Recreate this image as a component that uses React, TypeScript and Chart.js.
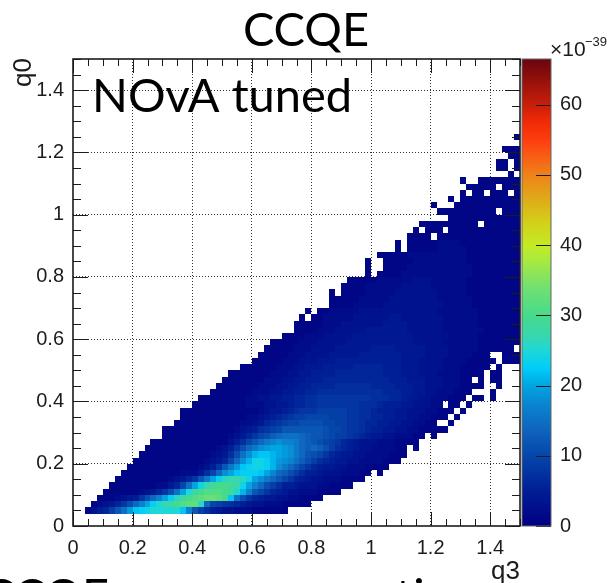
import React, { useEffect, useRef } from "react";
import { Chart, registerables } from "chart.js";

Chart.register(...registerables);

// Bin width of the q3 / q0 histogram
const binWidth = 0.02;
const zMax = 66.5;
const firstRow = 2;

// One string per q0 bin (from q0 = 0.04 upward). Each char is one q3 bin, base-36 value in units of 1e-39; '.' = empty.
const cellRows: string[] = [
  "..135 69cfj mnopp pppmh c9754 33222 11111 1",
  "...12 3468b ehknp rsuvw wqea9 87654 33222 11111",
  "....1 11234 58beh knqsu vwxxw umfb8 65443 32211 11",
  "..... 11111 12346 8bfkp suvvv utplh ca865 43322 21111",
  "..... .1111 11112 246af kortu utrok heb97 55433 32211 11",
  "..... ..111 11111 12346 8cgkn qrrqo kigec a8654 33222 1111",
  "..... ...11 11111 11122 247ae ikmnn nmkhe db975 54333 22211 .1",
  "..... ....1 11111 11111 12358 cgjmn oonli geca8 65443 32221 111",
  "..... ..... 11111 11111 11234 6aeil oonlj ihfdb 97654 43322 22111",
  "..... ..... .1111 11111 11123 47bfi lmmlk jigec ba865 44332 22211 1",
  "..... ..... ..111 11111 11112 358be gijkk jiged edb97 65433 22221 1.1",
  "..... ..... ...11 11111 11111 1357a ceghi hhged cba98 65433 32221 111",
  "..... ..... ..... 11111 11111 12346 8abde fffed ccba9 98765 44332 2211. 1",
  "..... ..... ..... 11111 11111 11234 5789a ccccc ccbaa 98876 55443 32211 111",
  "..... ..... ..... ..111 11111 11122 34678 9aabb bbaa9 98876 65544 33221 1..1",
  "..... ..... ..... ...11 11111 11112 23456 7899a aaa99 98877 66554 43322 111.1",
  "..... ..... ..... ...11 11111 11111 12344 56788 89999 98877 65554 43332 2111. 1",
  "..... ..... ..... ..... 11111 11112 22334 45667 78888 88877 76555 44333 22.11 .1",
  "..... ..... ..... ..... .1111 11112 23344 55667 78888 88888 77766 54433 22211 1.11. 1",
  "..... ..... ..... ..... ...11 11111 22233 44556 67777 77777 77666 55443 32221 11... 1",
  "..... ..... ..... ..... ....1 11111 12223 34455 66667 77777 66665 55443 33222 1111. .1",
  "..... ..... ..... ..... ..... 11111 11222 33445 55666 66666 66655 54443 33222 11.1. 11",
  "..... ..... ..... ..... ..... .1111 11122 23344 55556 66666 66555 44433 32222 1111. 11",
  "..... ..... ..... ..... ..... ...11 11112 22334 44555 55666 66555 44433 33222 11111 .1",
  "..... ..... ..... ..... ..... ..... 11111 22233 34445 55555 55555 44433 33222 21111 1.111",
  "..... ..... ..... ..... ..... ..... .1111 12223 33344 44455 55555 44443 33322 22111 ..111",
  "..... ..... ..... ..... ..... ..... ..111 11222 33334 44444 55554 44443 33322 22211 1111.",
  "..... ..... ..... ..... ..... ..... ...11 11122 23333 34444 44444 44333 33222 22211 11111",
  "..... ..... ..... ..... ..... ..... ..... 11112 22333 33444 44444 44333 33322 22211 11111",
  "..... ..... ..... ..... ..... ..... ..... ..111 12223 33334 44444 43333 33222 22221 11111",
  "..... ..... ..... ..... ..... ..... ..... ..111 11222 33333 33444 43333 33222 22211 11111",
  "..... ..... ..... ..... ..... ..... ..... ...1. 11222 22333 33344 33333 33222 22211 11111",
  "..... ..... ..... ..... ..... ..... ..... ....1 .1122 22233 33333 33333 32222 22211 11111",
  "..... ..... ..... ..... ..... ..... ..... ..... ...11 11222 22333 33333 33222 22111 11111",
  "..... ..... ..... ..... ..... ..... ..... ..... ...11 11122 22233 33333 32222 22111 11111",
  "..... ..... ..... ..... ..... ..... ..... ..... ...1. 11112 22223 33333 32222 21111 11111",
  "..... ..... ..... ..... ..... ..... ..... ..... ..... 11112 22222 33333 22222 21111 11111",
  "..... ..... ..... ..... ..... ..... ..... ..... ..... .1111 12222 22333 22222 21111 11111",
  "..... ..... ..... ..... ..... ..... ..... ..... ..... ....1 .1111 22222 22222 22111 11111",
  "..... ..... ..... ..... ..... ..... ..... ..... ..... ....1 ..111 12222 22222 22111 11111",
  "..... ..... ..... ..... ..... ..... ..... ..... ..... ....1 ..111 11222 22222 21111 11111",
  "..... ..... ..... ..... ..... ..... ..... ..... ..... ..... .1111 12222 22222 21111 11111",
  "..... ..... ..... ..... ..... ..... ..... ..... ..... ..... ....1 .1111 12222 21111 11111",
  "..... ..... ..... ..... ..... ..... ..... ..... ..... ..... ....1 .1111 12222 11111 11111",
  "..... ..... ..... ..... ..... ..... ..... ..... ..... ..... ..... .1111 .1111 11111 11111",
  "..... ..... ..... ..... ..... ..... ..... ..... ..... ..... ..... ..1.1 11.11 11111 11111",
  "..... ..... ..... ..... ..... ..... ..... ..... ..... ..... ..... ...11 11111 111.1 11111",
  "..... ..... ..... ..... ..... ..... ..... ..... ..... ..... ..... ..... ...11 11111 11111",
  "..... ..... ..... ..... ..... ..... ..... ..... ..... ..... ..... ..... .1111 11111 1.111",
  "..... ..... ..... ..... ..... ..... ..... ..... ..... ..... ..... ..... 1...1 11111 11111",
  "..... ..... ..... ..... ..... ..... ..... ..... ..... ..... ..... ..... ...1. 11111 11111",
  "..... ..... ..... ..... ..... ..... ..... ..... ..... ..... ..... ..... ..... 1.11. 111.1",
  "..... ..... ..... ..... ..... ..... ..... ..... ..... ..... ..... ..... ..... .1111 1.111",
  "..... ..... ..... ..... ..... ..... ..... ..... ..... ..... ..... ..... ..... 1..11 11111",
  "..... ..... ..... ..... ..... ..... ..... ..... ..... ..... ..... ..... ..... ..... ...1.",
  "..... ..... ..... ..... ..... ..... ..... ..... ..... ..... ..... ..... ..... ..... .11.1",
  "..... ..... ..... ..... ..... ..... ..... ..... ..... ..... ..... ..... ..... ..... .11.1",
  "..... ..... ..... ..... ..... ..... ..... ..... ..... ..... ..... ..... ..... ..... ...11",
  "..... ..... ..... ..... ..... ..... ..... ..... ..... ..... ..... ..... ..... ..... ..111",
  "",
  "..... ..... ..... ..... ..... ..... ..... ..... ..... ..... ..... ..... ..... ..... ....1",
];

const paletteValues = [0, 5, 10, 13.7, 17, 20, 22.5, 25, 27, 30, 34, 38, 40, 43, 47, 50, 55, 58, 60, 64, 66.5];
const paletteColors: [number, number, number][] = [
  [0, 0, 130], [0, 30, 150], [5, 70, 170], [15, 100, 190], [10, 130, 205], [0, 165, 225], [0, 205, 250], [30, 215, 215],
  [55, 215, 175], [70, 218, 140], [115, 224, 112], [170, 235, 60], [195, 235, 35], [210, 210, 25], [225, 165, 25],
  [240, 130, 25], [255, 60, 15], [235, 40, 5], [200, 30, 10], [140, 15, 10], [105, 5, 15],
];

const xTitle = "q3";
const yTitle = "q0";
const topTitle = "CCQE";
const insetLabel = "NOvA tuned";
const cutTextA = "CCQE";
const cutTextB = "cross section";

function colorFor(v: number): string {
  for (let k = 1; k < paletteValues.length; k++) {
    if (v <= paletteValues[k]) {
      const t = (v - paletteValues[k - 1]) / (paletteValues[k] - paletteValues[k - 1]);
      const a = paletteColors[k - 1];
      const b = paletteColors[k];
      return `rgb(${a.map((c, n) => Math.round(c + (b[n] - c) * t)).join(",")})`;
    }
  }
  return "rgb(105,5,15)";
}

function buildCells() {
  const pts: { x: number; y: number; v: number }[] = [];
  cellRows.forEach((row, r) => {
    const s = row.replace(/ /g, "");
    for (let i = 0; i < s.length; i++) {
      if (s[i] === ".") continue;
      pts.push({ x: (i + 0.5) * binWidth, y: (r + firstRow + 0.5) * binWidth, v: parseInt(s[i], 36) });
    }
  });
  return pts;
}

const INK = "#1c1c1c";
const tickFont = { family: "'Liberation Sans'", size: 20 };

const heatPlugin = {
  id: "heat",
  beforeDatasetsDraw(chart: any) {
    const { ctx, scales } = chart;
    const { x, y, cb } = scales;
    const area = chart.chartArea;
    ctx.save();
    for (const p of chart.data.datasets[0].data) {
      const x0 = Math.round(x.getPixelForValue(p.x - binWidth / 2));
      const x1 = Math.round(x.getPixelForValue(p.x + binWidth / 2));
      const y0 = Math.round(y.getPixelForValue(p.y + binWidth / 2));
      const y1 = Math.round(y.getPixelForValue(p.y - binWidth / 2));
      ctx.fillStyle = colorFor(p.v);
      ctx.fillRect(x0, y0, x1 - x0, y1 - y0);
    }
    // colour bar
    const top = cb.getPixelForValue(zMax);
    const bot = cb.getPixelForValue(0);
    const g = ctx.createLinearGradient(0, bot, 0, top);
    paletteValues.forEach((v, k) => g.addColorStop(v / zMax, `rgb(${paletteColors[k].join(",")})`));
    ctx.fillStyle = g;
    ctx.fillRect(area.right + 2, top, 29, bot - top);
    ctx.restore();
  },
  afterDatasetsDraw(chart: any) {
    const { ctx, scales } = chart;
    const { x, y, cb } = scales;
    const a = chart.chartArea;
    ctx.save();
    ctx.strokeStyle = INK;
    ctx.lineWidth = 1;
    ctx.beginPath();
    x.ticks.forEach((t: any, n: number) => {
      const px = Math.round(x.getPixelForValue(t.value)) + 0.5;
      const len = n % 4 === 0 ? 14 : 7;
      ctx.moveTo(px, a.bottom); ctx.lineTo(px, a.bottom - len);
      ctx.moveTo(px, a.top); ctx.lineTo(px, a.top + len);
    });
    y.ticks.forEach((t: any, n: number) => {
      const py = Math.round(y.getPixelForValue(t.value)) + 0.5;
      const len = n % 4 === 0 ? 15 : 8;
      ctx.moveTo(a.left, py); ctx.lineTo(a.left + len, py);
      ctx.moveTo(a.right, py); ctx.lineTo(a.right - len, py);
    });
    cb.ticks.forEach((t: any) => {
      const py = Math.round(cb.getPixelForValue(t.value)) + 0.5;
      ctx.moveTo(a.right + 31, py); ctx.lineTo(a.right + 16, py);
    });
    ctx.stroke();
    ctx.lineWidth = 1.6;
    ctx.strokeRect(a.left, a.top, a.right - a.left, a.bottom - a.top);
    ctx.strokeStyle = "#666";
    ctx.lineWidth = 1;
    ctx.strokeRect(a.right + 2, a.top, 29, a.bottom - a.top);
    ctx.restore();
  },
  afterDraw(chart: any) {
    const { ctx } = chart;
    ctx.save();
    ctx.fillStyle = "#000";
    ctx.textBaseline = "alphabetic";
    ctx.textAlign = "center";
    ctx.font = "47px Lato";
    ctx.fillText(topTitle, 306, 46);
    ctx.textAlign = "left";
    ctx.fillText(insetLabel, 92, 112);
    ctx.fillText(cutTextA, -17, 612);
    ctx.fillText(cutTextB, 210, 612);
    ctx.fillStyle = INK;
    ctx.font = "26px 'Liberation Sans'";
    ctx.fillText(xTitle, 491, 579);
    ctx.translate(31, 58);
    ctx.rotate(-Math.PI / 2);
    ctx.textAlign = "right";
    ctx.fillText(yTitle, 0, 0);
    ctx.restore();
    ctx.save();
    ctx.fillStyle = INK;
    ctx.font = "21px 'Liberation Sans'";
    ctx.fillText("\u00d710", 550, 56);
    ctx.font = "13px 'Liberation Sans'";
    ctx.fillText("\u221239", 585, 46);
    ctx.restore();
  },
};

export default function App() {
  const ref = useRef<HTMLCanvasElement>(null);
  useEffect(() => {
    if (!ref.current) return;
    const majorLabel = (v: any, idx: number) => (idx % 4 === 0 ? String(Number(Number(v).toFixed(1))) : "");
    const chart = new Chart(ref.current, {
      type: "scatter",
      data: { datasets: [{ label: "q0 vs q3", data: buildCells() as any, pointRadius: 0, showLine: false }] },
      plugins: [heatPlugin],
      options: {
        responsive: false,
        animation: false,
        layout: { padding: { top: 59, left: 0, right: 0, bottom: 0 } },
        plugins: { legend: { display: false }, tooltip: { enabled: false } },
        scales: {
          x: {
            type: "linear",
            position: "bottom",
            min: 0,
            max: 1.5,
            afterFit: (s: any) => { s.height = 57; },
            grid: {
              drawTicks: false,
              color: (c: any) => (c.index % 4 === 0 && c.index > 0 ? "#333" : "transparent"),
            },
            border: { display: false, dash: [1, 2] },
            ticks: {
              stepSize: 0.05, autoSkip: false, maxRotation: 0, minRotation: 0, padding: 10,
              color: INK, font: tickFont, callback: majorLabel,
            },
          },
          y: {
            type: "linear",
            position: "left",
            min: 0,
            max: 1.5,
            afterFit: (s: any) => { s.width = 73; },
            grid: {
              drawTicks: false,
              color: (c: any) => (c.index % 4 === 0 && c.index > 0 ? "#333" : "transparent"),
            },
            border: { display: false, dash: [1, 2] },
            ticks: {
              stepSize: 0.05, autoSkip: false, padding: 9,
              color: INK, font: tickFont, callback: majorLabel,
            },
          },
          cb: {
            type: "linear",
            position: "right",
            min: 0,
            max: zMax,
            afterFit: (s: any) => { s.width = 91; },
            grid: { display: false, drawTicks: false },
            border: { display: false },
            ticks: { stepSize: 10, includeBounds: false, padding: 40, color: INK, font: tickFont },
          },
        },
      } as any,
    });
    return () => chart.destroy();
  }, []);
  return (
    <canvas
      ref={ref}
      width={611}
      height={583}
      style={{ position: "absolute", left: 0, top: 0, width: 611, height: 583, display: "block" }}
    />
  );
}
